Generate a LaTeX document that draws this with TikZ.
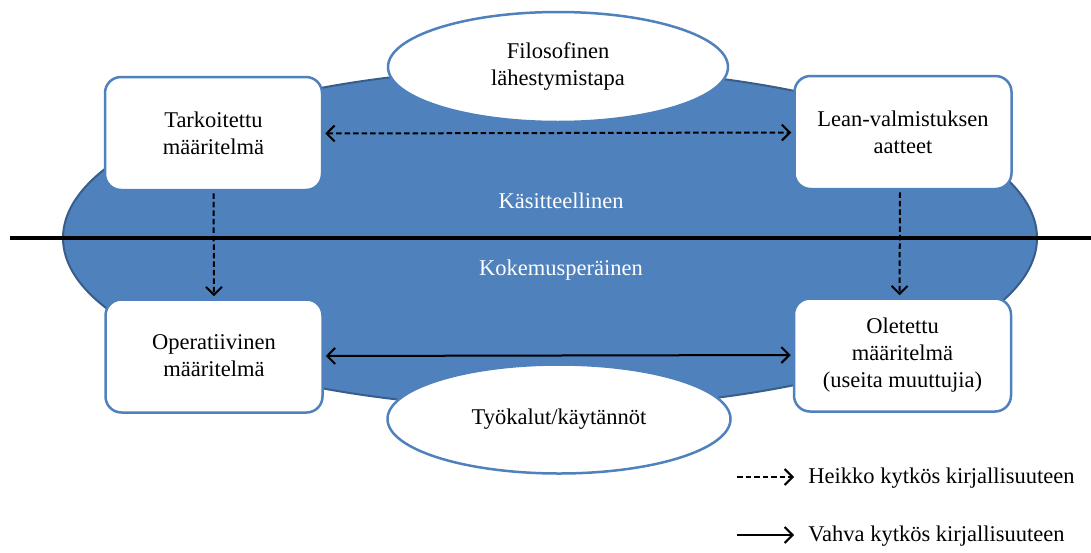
\documentclass[tikz,border=0pt]{standalone}
\usepackage{fontspec}
\setmainfont{Liberation Serif}
\usetikzlibrary{shapes.geometric,arrows.meta}
\definecolor{officeblue}{HTML}{4F81BD}
\definecolor{officedark}{HTML}{385D8A}
\tikzset{box/.style={
    draw=officeblue, fill=white, line width=1.25pt,
    rounded corners=8pt, align=center,
    minimum width=108.5pt, minimum height=56.5pt,
    inner sep=2pt, font=\fontsize{11.25}{13.5}\selectfont
  },
  oval/.style={
    ellipse, draw=officeblue, fill=white, line width=1.25pt,
    align=center, inner sep=0pt,
    font=\fontsize{11.25}{13.5}\selectfont
  },
  weak/.style={dash pattern=on 2.75pt off 1.5pt},
  link/.style={line width=1pt, >={Straight Barb[length=4pt,width=8pt]}},
  legend/.style={anchor=west, inner sep=0pt, font=\fontsize{11.25}{13.5}\selectfont}
}

\begin{document}
\begin{tikzpicture}[x=0.5pt,y=-0.5pt]
    \useasboundingbox (0,0) rectangle (1091,552);

    \filldraw[fill=officeblue, draw=officedark, line width=1pt] (550,238) ellipse [x radius=243.5pt, y radius=85pt];
    \draw[line width=1.75pt] (10,238) -- (1091,238);

    \node[text=white, font=\fontsize{11.25}{13.5}\selectfont] (kasit) at (561,201) {Käsitteellinen};
    \node[text=white, font=\fontsize{11.25}{13.5}\selectfont] (kokem) at (561,270) {Kokemusperäinen};

    \node[box] (tark) at (213.5,133.5) {Tarkoitettu\\määritelmä};
    \node[box] (oper) at (214,356) {Operatiivinen\\määritelmä};
    \node[box] (lean) at (903,132.5) {Lean-valmistuksen\\aatteet};
    \node[box] (olet) at (902.5,355) {Oletettu\\määritelmä\\(useita muuttujia)};

    \node[oval, minimum width=170pt, minimum height=55pt] (filo) at (558,67) {Filosofinen\\lähestymistapa};
    \node[oval, minimum width=171.5pt, minimum height=54.5pt] (tyok) at (559,419) {Työkalut/käytännöt};

    \draw[link, weak, <->, shorten <=1pt, shorten >=1pt] (tark.east) -- (lean.west);
    \draw[link, <->, shorten <=1pt, shorten >=1pt] (oper.east) -- (olet.west);
    \draw[link, weak, ->, shorten <=1pt, shorten >=1pt] (tark.south) -- (oper.north);
    \draw[link, weak, ->, shorten <=1pt, shorten >=1pt] ([xshift=-1.5pt]lean.south) -- ([xshift=-1.5pt]olet.north);

    % selite
    \coordinate (heikkoA) at (737,477);
    \coordinate (heikkoB) at (794,477);
    \coordinate (vahvaA) at (737,535);
    \coordinate (vahvaB) at (794,535);
    \draw[link, weak, ->] (heikkoA) -- (heikkoB);
    \draw[link, ->] (vahvaA) -- (vahvaB);
    \node[legend] (heikko) at (808,478) {Heikko kytkös kirjallisuuteen};
    \node[legend] (vahva) at (808,536) {Vahva kytkös kirjallisuuteen};
\end{tikzpicture}
\end{document}
